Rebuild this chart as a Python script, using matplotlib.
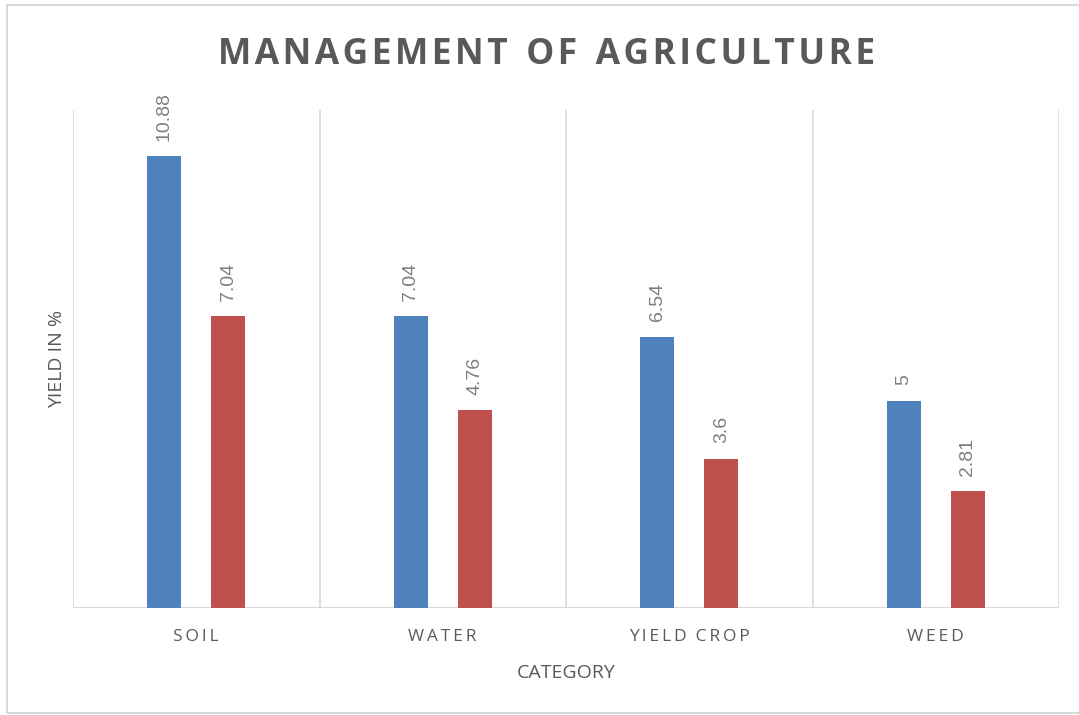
import matplotlib
matplotlib.use("Agg")
import matplotlib.pyplot as plt
import numpy as np
from matplotlib.patches import Rectangle

categories = ["SOIL", "WATER", "YIELD CROP", "WEED"]
series_a = [10.88, 7.04, 6.54, 5]
series_b = [7.04, 4.76, 3.6, 2.81]

BLUE = "#4F81BD"
RED = "#C0504D"
TEXT = "#595959"
GRID = "#D9D9D9"

plt.rcParams["font.family"] = ["Open Sans", "DejaVu Sans"]


def spaced(s, sep="\u2009"):
    # fake letter spacing like the office chart
    return sep.join(s).replace(sep + " " + sep, "  ")


fig = plt.figure(figsize=(10.79, 7.15), dpi=100)
ax = fig.add_axes([73 / 1079, 1 - 608 / 715, (1059 - 73) / 1079, (608 - 110) / 715])

x = np.arange(len(categories))
width = 0.138
offset = 0.13
bars_a = ax.bar(x - offset, series_a, width, color=BLUE, zorder=3)
bars_b = ax.bar(x + offset, series_b, width, color=RED, zorder=3)

for bars, vals in ((bars_a, series_a), (bars_b, series_b)):
    for b, v in zip(bars, vals):
        ax.annotate(f"{v:g}", (b.get_x() + b.get_width() / 2, v), xytext=(0, 11),
                    textcoords="offset points", rotation=90, ha="center", va="bottom",
                    fontsize=14, color="#7F7F7F", family=["Liberation Sans", "DejaVu Sans"])

ax.set_xlim(-0.5, len(categories) - 0.5)
ax.set_ylim(0, 12)

# category separators
for b in np.arange(-0.5, len(categories), 1.0):
    ax.axvline(b, color=GRID, lw=1.2, zorder=1)

for s in ax.spines.values():
    s.set_visible(False)
ax.axhline(0, color=GRID, lw=1.5, zorder=2)

ax.set_yticks([])
ax.set_xticks(x)
ax.set_xticklabels([spaced(c) for c in categories], fontsize=12.5, color=TEXT)
ax.tick_params(axis="x", length=0, pad=15)

ax.set_xlabel("CATEGORY", fontsize=14, color=TEXT, labelpad=14)
ax.set_ylabel("YIELD IN %", fontsize=14, color=TEXT, labelpad=5)

fig.text(547 / 1079, 1 - 55 / 715, spaced("MANAGEMENT OF AGRICULTURE", "\u200a"),
         ha="center", va="center", fontsize=25.5, fontweight="bold", color=TEXT)

fig.patches.append(Rectangle((7 / 1079, 1 - 713 / 715), 1.2, 708 / 715,
                             transform=fig.transFigure, fill=False, edgecolor=GRID, lw=1.5))

fig.savefig("out.png", dpi=100, facecolor="white")
